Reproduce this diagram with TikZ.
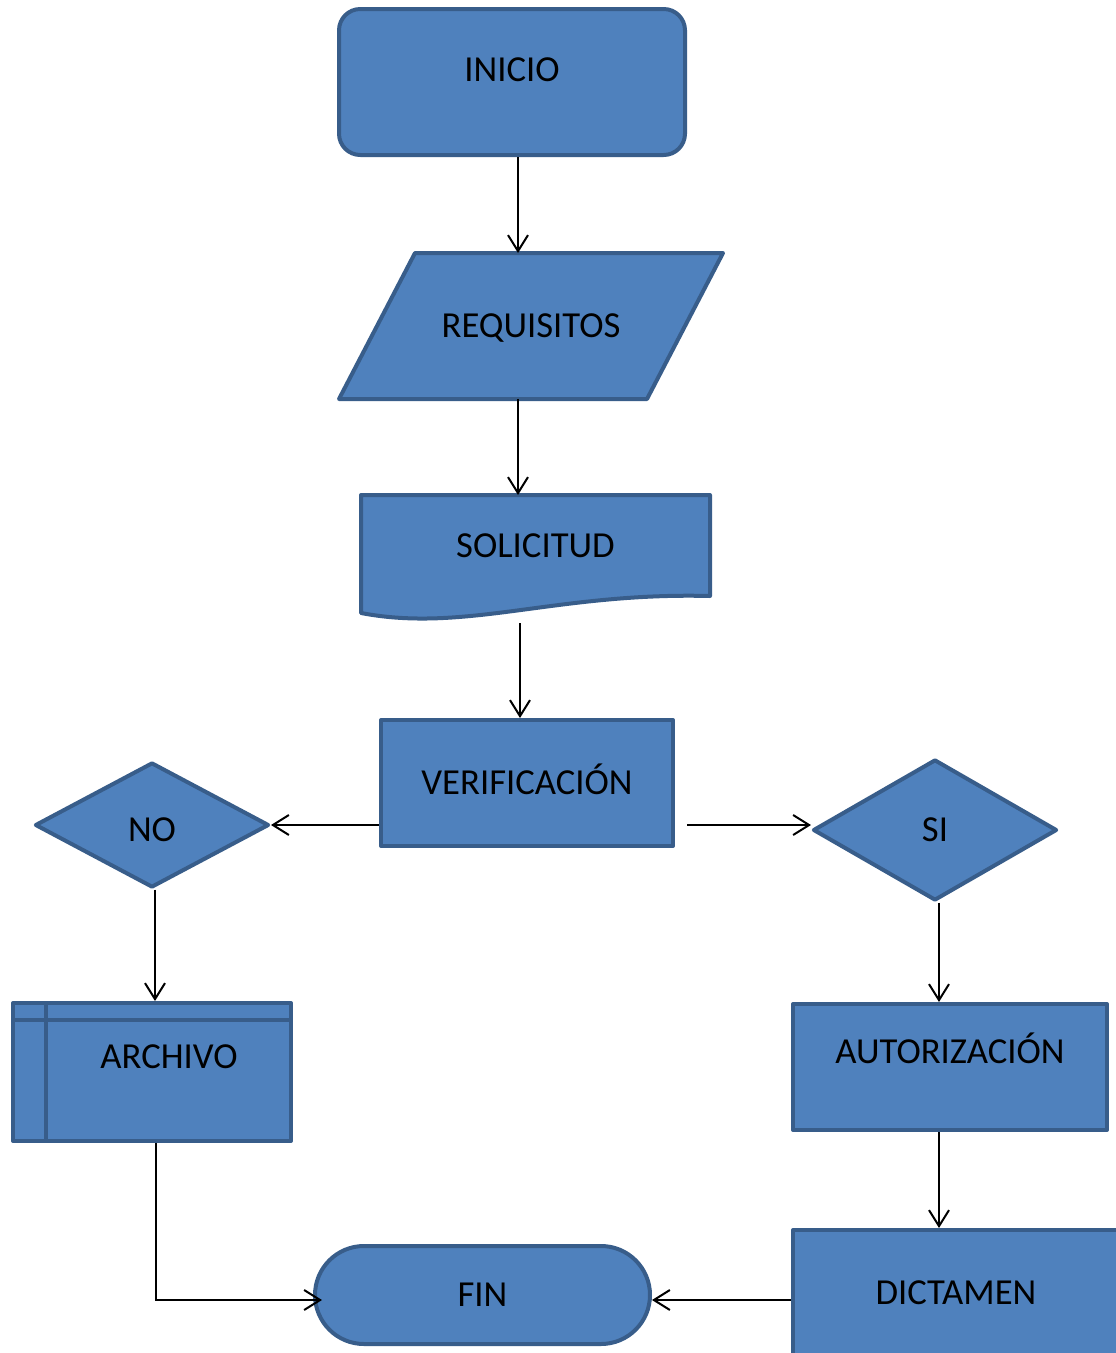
\documentclass[tikz,border=0pt]{standalone}
\usepackage{fontspec}
\setmainfont{Carlito}
\usepackage{tikz}
\usetikzlibrary{shapes.geometric, shapes.misc, arrows.meta, calc, backgrounds}
\definecolor{boxfill}{HTML}{4F81BD}
\definecolor{boxline}{HTML}{385D8A}
\tikzset{shapebox/.style={draw=boxline,fill=boxfill,line width=3pt,line join=round,text=black,inner sep=0pt,
                          font=\fontsize{27.5}{33}\selectfont,text height=17.7pt,text depth=0pt},
         startbox/.style={shapebox,rectangle,rounded corners=16pt},
         iobox/.style={shapebox,rectangle,draw=none,fill=none,outer sep=0pt},
         docbox/.style={shapebox,rectangle,draw=none,fill=none,outer sep=0pt},
         outline/.style={draw=boxline,fill=boxfill,line width=3pt,line join=round},
         procbox/.style={shapebox,rectangle},
         decision/.style={shapebox,diamond},
         storebox/.style={shapebox,rectangle},
         storeline/.style={draw=boxline,line width=3pt},
         endbox/.style={shapebox,rounded rectangle},
         raised/.style={text depth=#1},
         lowered/.style={text height=#1},
         arrow/.style={-{Straight Barb[length=12pt,width=15pt]},line width=1.5pt}}
\begin{document}
\begin{tikzpicture}[x=0.75pt,y=-0.75pt]
    \begin{scope}[on background layer]
      \fill[white] (0,0) rectangle (1116,1353);
    \end{scope}
    \path[use as bounding box] (0,0) rectangle (1116,1353);
    \clip (0,0) rectangle (1116,1353);
    \node (inicio) [startbox, raised=18pt, minimum width=259.5pt, minimum height=109.5pt] at (512,82) {INICIO};
    \node (req) [iobox, minimum width=288pt, minimum height=109.5pt] at (531,326) {REQUISITOS};
    \node (sol) [docbox, minimum width=261.75pt, minimum height=75.75pt] at (535.5,545.5) {SOLICITUD};
    \node (ver) [procbox, minimum width=219pt, minimum height=94.5pt] at (527,783) {VERIFICACIÓN};
    \node (no) [decision, lowered=25.2pt, minimum width=175.5pt, minimum height=93.75pt] at (152,825) {NO};
    \node (si) [decision, minimum width=183pt, minimum height=105.75pt] at (935,830) {SI};
    \node (arch) [storebox, raised=22.5pt, minimum width=208.5pt, minimum height=103.5pt] at (152,1072) {\hspace*{25.5pt}ARCHIVO};
    \node (aut) [procbox, raised=22.5pt, minimum width=235.5pt, minimum height=94.5pt] at (950,1067) {AUTORIZACIÓN};
    \node (dict) [procbox, minimum width=244.5pt, minimum height=94.5pt] at (956,1293) {DICTAMEN};
    \node (fin) [endbox, minimum width=251.25pt, minimum height=73.5pt] at (482.5,1295) {FIN};
    \begin{scope}[on background layer]
      \draw[outline] (req.south west) -- ($(req.north west)+(76,0)$) -- (req.north east) -- ($(req.south east)+(-76,0)$) -- cycle;
      \draw[outline] (sol.south east) .. controls ($(sol.south east)+(-154,-4)$) and ($(sol.south east)+(-244,37)$) .. ($(sol.south west)+(0,17)$)
        -- (sol.north west) -- (sol.north east) -- cycle;
    \end{scope}
    \draw[storeline] ($(arch.north west)+(0,19)$) -- ($(arch.north east)+(0,19)$);
    \draw[storeline] ($(arch.north west)+(35,0)$) -- ($(arch.south west)+(35,0)$);
    \draw[arrow] ($(inicio.south)+(6,0)$) coordinate (a1) -- (a1 |- req.north);
    \draw[arrow] ($(req.south)+(-13,0)$) coordinate (a2) -- (a2 |- sol.north);
    \draw[arrow] ($(sol.south)+(-15.5,27)$) coordinate (a3) -- (a3 |- ver.north);
    \draw[arrow] (ver.west |- no.east) -- (no.east);
    \draw[arrow] ($(ver.east |- no.east)+(12,0)$) -- (si.west |- no.east);
    \draw[arrow] ($(no.south)+(3,0)$) coordinate (a6) -- (a6 |- arch.north);
    \draw[arrow] ($(si.south)+(4,0)$) coordinate (a7) -- (a7 |- aut.north);
    \draw[arrow] ($(aut.south)+(-11,0)$) coordinate (a8) -- (a8 |- dict.north);
    \draw[arrow] ($(arch.south)+(4,0)$) |- ($(fin.west)+(9,5)$);
    \draw[arrow] ($(dict.west)+(0,7)$) -- ($(fin.east)+(0,5)$);
  \end{tikzpicture}
\end{document}
